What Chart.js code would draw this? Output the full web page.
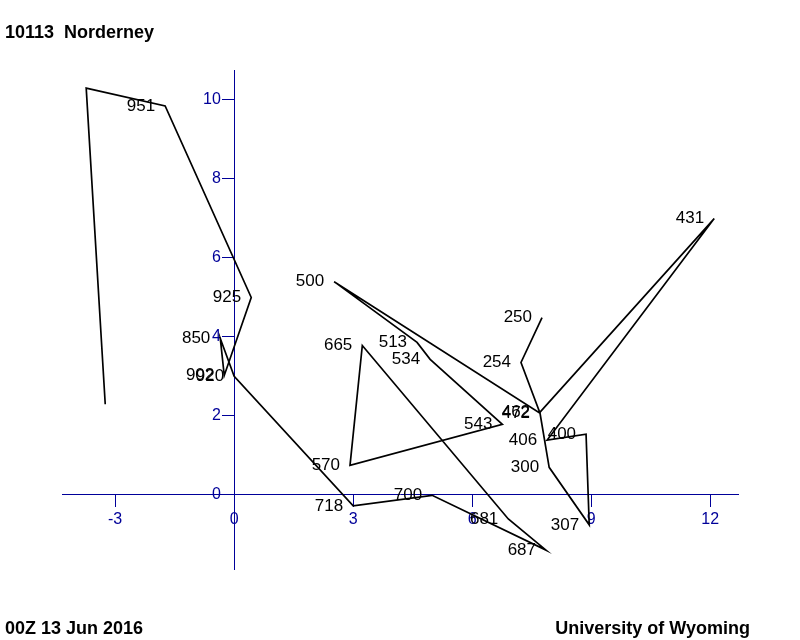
<!DOCTYPE html>
<html>
<head>
<meta charset="utf-8">
<title>10113 Norderney hodograph</title>
<script src="https://cdn.jsdelivr.net/npm/chart.js@4.4.1/dist/chart.umd.min.js"></script>
<style>
  html, body { margin: 0; padding: 0; background: #fff; }
  #wrap { position: relative; width: 800px; height: 640px; }
  #hodo { position: absolute; left: 0; top: 0; }
  .txt { position: absolute; font-family: "Liberation Sans", Arial, sans-serif; font-weight: bold; font-size: 18px; color: #000; white-space: pre; line-height: 1; }
</style>
</head>
<body>
<div id="wrap">
  <canvas id="hodo" width="800" height="640"></canvas>
  <div class="txt" style="left:5px; top:23px;">10113  Norderney</div>
  <div class="txt" style="left:5px; top:619px;">00Z 13 Jun 2016</div>
  <div class="txt" style="right:50px; top:619px;">University of Wyoming</div>
</div>
<script>
// Hodograph levels (hPa) with u / v wind components, in plotting order
var levels = ["", "", "951", "925", "902", "850", "920", "718", "700", "687", "681", "665", "570",
              "543", "534", "513", "500", "472", "462", "431", "406", "400", "307", "300", "", "254", "250"];
var uWind = [-3.25, -3.73, -1.74, 0.43, -0.25, -0.35, 0.0, 3.0, 4.99, 7.86, 6.91, 3.23, 2.92,
             6.76, 4.94, 4.61, 2.52, 7.71, 7.71, 12.10, 7.89, 8.87, 8.95, 7.94, 7.71, 7.23, 7.76];
var vWind = [2.28, 10.30, 9.85, 4.99, 3.01, 3.95, 2.99, -0.30, -0.03, -1.42, -0.63, 3.77, 0.73,
             1.77, 3.42, 3.85, 5.39, 2.05, 2.08, 6.99, 1.37, 1.52, -0.78, 0.68, 2.05, 3.34, 4.48];

var xTicks = [-3, 0, 3, 6, 9, 12];
var yTicks = [0, 2, 4, 6, 8, 10];

var axisBlue = "#000099";
let ctx = document.getElementById("hodo").getContext("2d");

// pressure labels, right-aligned just left of each point
const levelLabels = {
    id: "levelLabels",
    afterDatasetsDraw(chart) {
        const c = chart.ctx;
        const xs = chart.scales.x;
        const ys = chart.scales.y;
        c.save();
        c.font = '17px "Liberation Sans", Arial, sans-serif';
        c.fillStyle = "#000";
        c.textAlign = "right";
        c.textBaseline = "middle";
        for (let i = 0; i < levels.length; i++) {
            if (!levels[i]) continue;
            c.fillText(levels[i], xs.getPixelForValue(uWind[i]) - 10, ys.getPixelForValue(vWind[i]));
        }
        c.restore();
    }
};

const points = uWind.map((u, i) => ({ x: u, y: vWind[i] }));

new Chart(ctx, {
    type: "scatter",
    data: {
        datasets: [{
            data: points,
            showLine: true,
            borderColor: "#000",
            backgroundColor: "#000",
            borderWidth: 1.7,
            pointRadius: 0,
            tension: 0,
        }],
    },
    plugins: [levelLabels],
    options: {
        responsive: false,
        animation: false,
        devicePixelRatio: 1,
        layout: {
            padding: { left: 62, right: 62, top: 70, bottom: 71 },
        },
        scales: {
            x: {
                type: "linear",
                position: { y: 0 },
                min: -4.34,
                max: 12.70,
                afterBuildTicks: (s) => { s.ticks = xTicks.map((v) => ({ value: v })); },
                grid: { drawOnChartArea: false, drawTicks: true, tickLength: 12, color: axisBlue, lineWidth: 1 },
                border: { display: true, color: axisBlue, width: 1 },
                ticks: {
                    color: axisBlue,
                    padding: 4,
                    autoSkip: false,
                    maxRotation: 0,
                    font: { family: '"Liberation Sans", Arial, sans-serif', size: 16 },
                },
            },
            y: {
                type: "linear",
                position: { x: 0 },
                min: -1.90,
                max: 10.76,
                afterBuildTicks: (s) => { s.ticks = yTicks.map((v) => ({ value: v })); },
                grid: { drawOnChartArea: false, drawTicks: true, tickLength: 12, color: axisBlue, lineWidth: 1 },
                border: { display: true, color: axisBlue, width: 1 },
                ticks: {
                    color: axisBlue,
                    autoSkip: false,
                    // labels sit right against the axis here, so pad them past the tick marks
                    callback: (v) => v + "   ",
                    font: { family: '"Liberation Sans", Arial, sans-serif', size: 16 },
                },
            },
        },
        plugins: {
            legend: { display: false },
            tooltip: { enabled: false },
            title: { display: false },
        },
    },
});
</script>
</body>
</html>
